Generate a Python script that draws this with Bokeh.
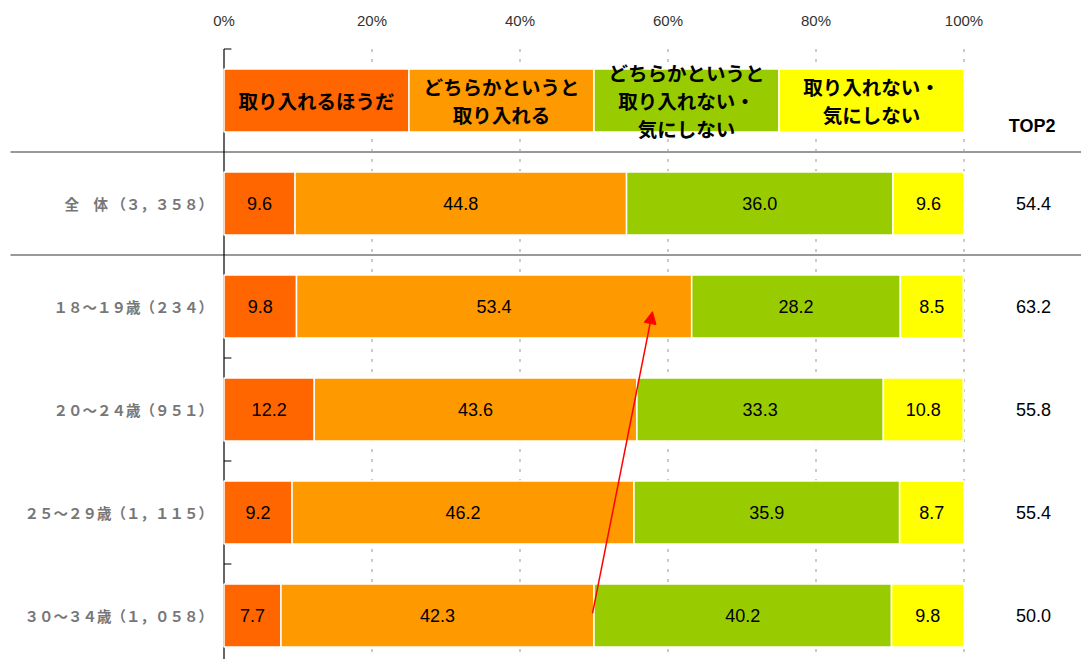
import numpy as np
from bokeh.plotting import figure
from bokeh.models import ColumnDataSource, Range1d, FixedTicker, Arrow, NormalHead
from bokeh.core.properties import value
from bokeh.embed import file_html
from bokeh.resources import INLINE

# ---------------- data ----------------
categories = ["全　体 （３，３５８）", "１８～１９歳（２３４）", "２０～２４歳（９５１）",
              "２５～２９歳（１，１１５）", "３０～３４歳（１，０５８）"]
series_names = ["取り入れるほうだ", "どちらかというと\n取り入れる",
                "どちらかというと\n取り入れない・\n気にしない", "取り入れない・\n気にしない"]
s_strong_yes = [9.6, 9.8, 12.2, 9.2, 7.7]
s_yes = [44.8, 53.4, 43.6, 46.2, 42.3]
s_no = [36.0, 28.2, 33.3, 35.9, 40.2]
s_strong_no = [9.6, 8.5, 10.8, 8.7, 9.8]
top2 = [54.4, 63.2, 55.8, 55.4, 50.0]
top2_title = "TOP2"
x_ticks = [0, 20, 40, 60, 80, 100]
tick_labels = ["0%", "20%", "40%", "60%", "80%", "100%"]
trend_from = (49.8, 4.98)   # arrow annotation (data units)
trend_to = (57.9, 2.05)

colors = ["#FF6600", "#FF9900", "#99CC00", "#FFFF00"]

# ---------------- layout constants ----------------
PX_PER_PCT = 7.4
AX0 = 223.5            # page x of 0%
ROW_PX = 103.0
ROW0 = 100.0           # page y of header row center
FIG_W, FIG_H = 1081, 659
TOP_BORDER = 40

x_start = (0 - AX0) / PX_PER_PCT
x_end = (FIG_W - AX0) / PX_PER_PCT
y_top = (TOP_BORDER - ROW0) / ROW_PX
y_bot = (FIG_H - ROW0) / ROW_PX

p = figure(width=FIG_W, height=FIG_H, output_backend="svg", toolbar_location=None,
           x_range=Range1d(x_start, x_end), y_range=Range1d(y_bot, y_top),
           x_axis_location="above", y_axis_location=None,
           min_border_left=0, min_border_right=0, min_border_bottom=0,
           min_border_top=TOP_BORDER)
p.outline_line_color = None
p.xgrid.visible = False
p.ygrid.visible = False
p.background_fill_color = "white"
p.border_fill_color = "white"

ax = p.xaxis[0]
ax.ticker = FixedTicker(ticks=x_ticks)
ax.major_label_overrides = {t: l for t, l in zip(x_ticks, tick_labels)}
ax.axis_line_color = None
ax.major_tick_line_color = None
ax.minor_tick_line_color = None
ax.major_tick_out = 0
ax.major_label_standoff = 12
ax.major_label_text_font = "Liberation Sans"
ax.major_label_text_font_size = "15px"
ax.major_label_text_color = "#333333"

bar_h = 63 / ROW_PX
n = len(categories)
rows = np.arange(1, n + 1)
line_top = -0.5

# dotted grid lines
grid_x = [t for t in x_ticks if t > 0]
p.segment(x0=grid_x, y0=[line_top] * len(grid_x), x1=grid_x, y1=[y_bot] * len(grid_x),
          line_color="#999999", line_width=1, line_dash="3 7")

# separators
sep_y = [0.5, 1.5]
sep_x0 = (10 - AX0) / PX_PER_PCT
p.segment(x0=[sep_x0] * 2, y0=sep_y, x1=[x_end] * 2, y1=sep_y,
          line_color="#999999", line_width=2)

# left axis line and boundary ticks
p.segment(x0=[0], y0=[line_top], x1=[0], y1=[y_bot], line_color="black", line_width=1.2)
tick_y = [line_top] + [r + 0.5 for r in range(2, n)]
p.segment(x0=[0] * len(tick_y), y0=tick_y, x1=[1.0] * len(tick_y), y1=tick_y,
          line_color="black", line_width=1.2)

# header row (legend-like)
k = len(series_names)
hl = [i * 100 / k for i in range(k)]
hr = [(i + 1) * 100 / k for i in range(k)]
p.hbar(y=[0] * k, left=hl, right=hr, height=bar_h, fill_color=colors,
       line_color="white", line_width=1.5)
p.text(x=[(a + b) / 2 for a, b in zip(hl, hr)], y=[0] * k, text=series_names,
       text_align="center", text_baseline="middle", text_color="black",
       text_font=value("Noto Sans CJK JP"), text_font_style="bold",
       text_font_size="19.5px", text_line_height=0.97)
p.text(x=[109.2], y=[0.25], text=[top2_title], text_align="center", text_baseline="middle",
       text_font=value("Liberation Sans"), text_font_style="bold", text_font_size="18px",
       text_color="black")

# stacked bars
vals = np.array([s_strong_yes, s_yes, s_no, s_strong_no])
cum = np.cumsum(vals, axis=0)
lefts = np.vstack([np.zeros(n), cum[:-1]])
for i in range(k):
    src = ColumnDataSource(dict(y=rows, left=lefts[i], right=cum[i],
                                mid=(lefts[i] + cum[i]) / 2,
                                lab=["%.1f" % v for v in vals[i]]))
    p.hbar(y="y", left="left", right="right", height=bar_h, source=src,
           fill_color=colors[i], line_color="white", line_width=1.5)
    p.text(x="mid", y="y", text="lab", source=src, text_align="center",
           text_baseline="middle", text_font=value("Liberation Sans"),
           text_font_size="18px", text_color="black")

# category labels
p.text(x=[-1.5] * n, y=rows, text=categories, text_align="right", text_baseline="middle",
       text_font=value("Noto Sans CJK JP"), text_font_style="bold",
       text_font_size="14.5px", text_color="#777777")

# TOP2 values
p.text(x=[109.4] * n, y=rows, text=["%.1f" % v for v in top2], text_align="center",
       text_baseline="middle", text_font=value("Liberation Sans"),
       text_font_size="18px", text_color="black")

# red trend arrow
p.add_layout(Arrow(end=NormalHead(size=12, fill_color="red", line_color="red"),
                   x_start=trend_from[0], y_start=trend_from[1],
                   x_end=trend_to[0], y_end=trend_to[1],
                   line_color="red", line_width=1.5))

open("out.html", "w").write(file_html(p, INLINE))
